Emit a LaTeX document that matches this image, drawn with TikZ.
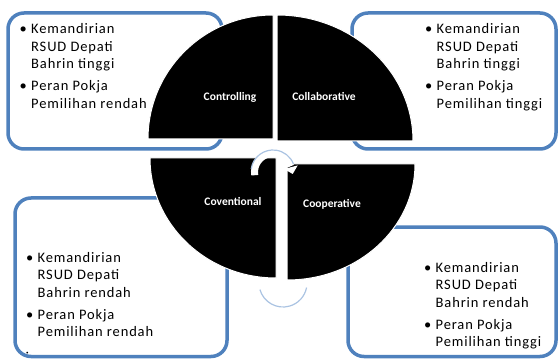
\documentclass[tikz,border=0pt]{standalone}
\usepackage{fontspec}
\setmainfont{Carlito}
\newfontfamily\boxfont[LetterSpace=6]{Carlito}
\definecolor{boxblue}{RGB}{79,129,189}
\definecolor{arcblue}{RGB}{170,195,226}
\newcommand\bitem{\makebox[11.5pt][l]{\textbullet}}
\newcommand\hind{\hspace*{11.5pt}}
\newcommand\blist[1]{\begin{tabular}[t]{@{}l@{}}#1\end{tabular}}
\begin{document}
\begin{tikzpicture}[x=1pt,y=1pt,
  bx/.style={draw=boxblue, line width=3.5pt, rounded corners=16pt, fill=white},
  quad/.style={fill=black, draw=white, line width=1pt},
  qlabel/.style={text=white, font=\fontsize{11.5}{13}\selectfont\bfseries, inner sep=0},
  txt/.style={font=\boxfont\fontsize{14.5}{17.5}\selectfont, inner sep=0, anchor=base west}]
\useasboundingbox (0,0) rectangle (559,359);
% boxes
\draw[bx] (8,210) rectangle (222,346);
\draw[bx] (352,210) rectangle (556,346);
\draw[bx] (15,2.5) rectangle (227,161);
\draw[bx] (348,2.5) rectangle (556,132);
% box texts
\node[txt] (t1) at (19.5,325) {\blist{\bitem Kemandirian\\\hind RSUD Depati\\\hind Bahrin tinggi\\[4.5pt]\bitem Peran Pokja\\\hind Pemilihan rendah}};
\node[txt] (t2) at (425,325) {\blist{\bitem Kemandirian\\\hind RSUD Depati\\\hind Bahrin tinggi\\[4.5pt]\bitem Peran Pokja\\\hind Pemilihan tinggi}};
\node[txt] (t3) at (26,97) {\blist{\bitem Kemandirian\\\hind RSUD Depati\\\hind Bahrin rendah\\[4.5pt]\bitem Peran Pokja\\\hind Pemilihan rendah\\{\tiny\textbullet}}};
\node[txt] (t4) at (424,87) {\blist{\bitem Kemandirian\\\hind RSUD Depati\\\hind Bahrin rendah\\[4.5pt]\bitem Peran Pokja\\\hind Pemilihan tinggi}};
% quadrants
\draw[quad] (273,220) -- (148,220) arc[start angle=180, end angle=90, x radius=125, y radius=124] -- cycle;
\draw[quad] (277,218) -- (277,344) arc[start angle=90, end angle=0, x radius=136, y radius=126] -- cycle;
\draw[quad] (276,201) -- (150,201) arc[start angle=180, end angle=270, x radius=126, y radius=120] -- cycle;
\draw[quad] (287,195) -- (415,195) arc[start angle=0, end angle=-90, x radius=128, y radius=116] -- cycle;
% circular arrows
\coordinate (ac) at (273,187);
\draw[white, line width=7pt] ([shift={(190:18.5)}]ac) arc[start angle=190, end angle=18, radius=18.5];
\fill[white] (297.7,193.6) -- (284.1,190.0) -- (292.7,185.0) -- cycle;
\draw[arcblue, line width=1.2pt] ([shift={(172:22)}]ac) arc[start angle=172, end angle=22, radius=22];
\coordinate (bc) at (283,76);
\draw[arcblue, line width=1.2pt] ([shift={(196:24)}]bc) arc[start angle=196, end angle=349, radius=24];
% labels
\node[qlabel] (q1) at (230,262) {Controlling};
\node[qlabel] (q2) at (324,262) {Collaborative};
\node[qlabel] (q3) at (233,158) {Coventional};
\node[qlabel] (q4) at (332,155) {Cooperative};
\end{tikzpicture}
\end{document}
